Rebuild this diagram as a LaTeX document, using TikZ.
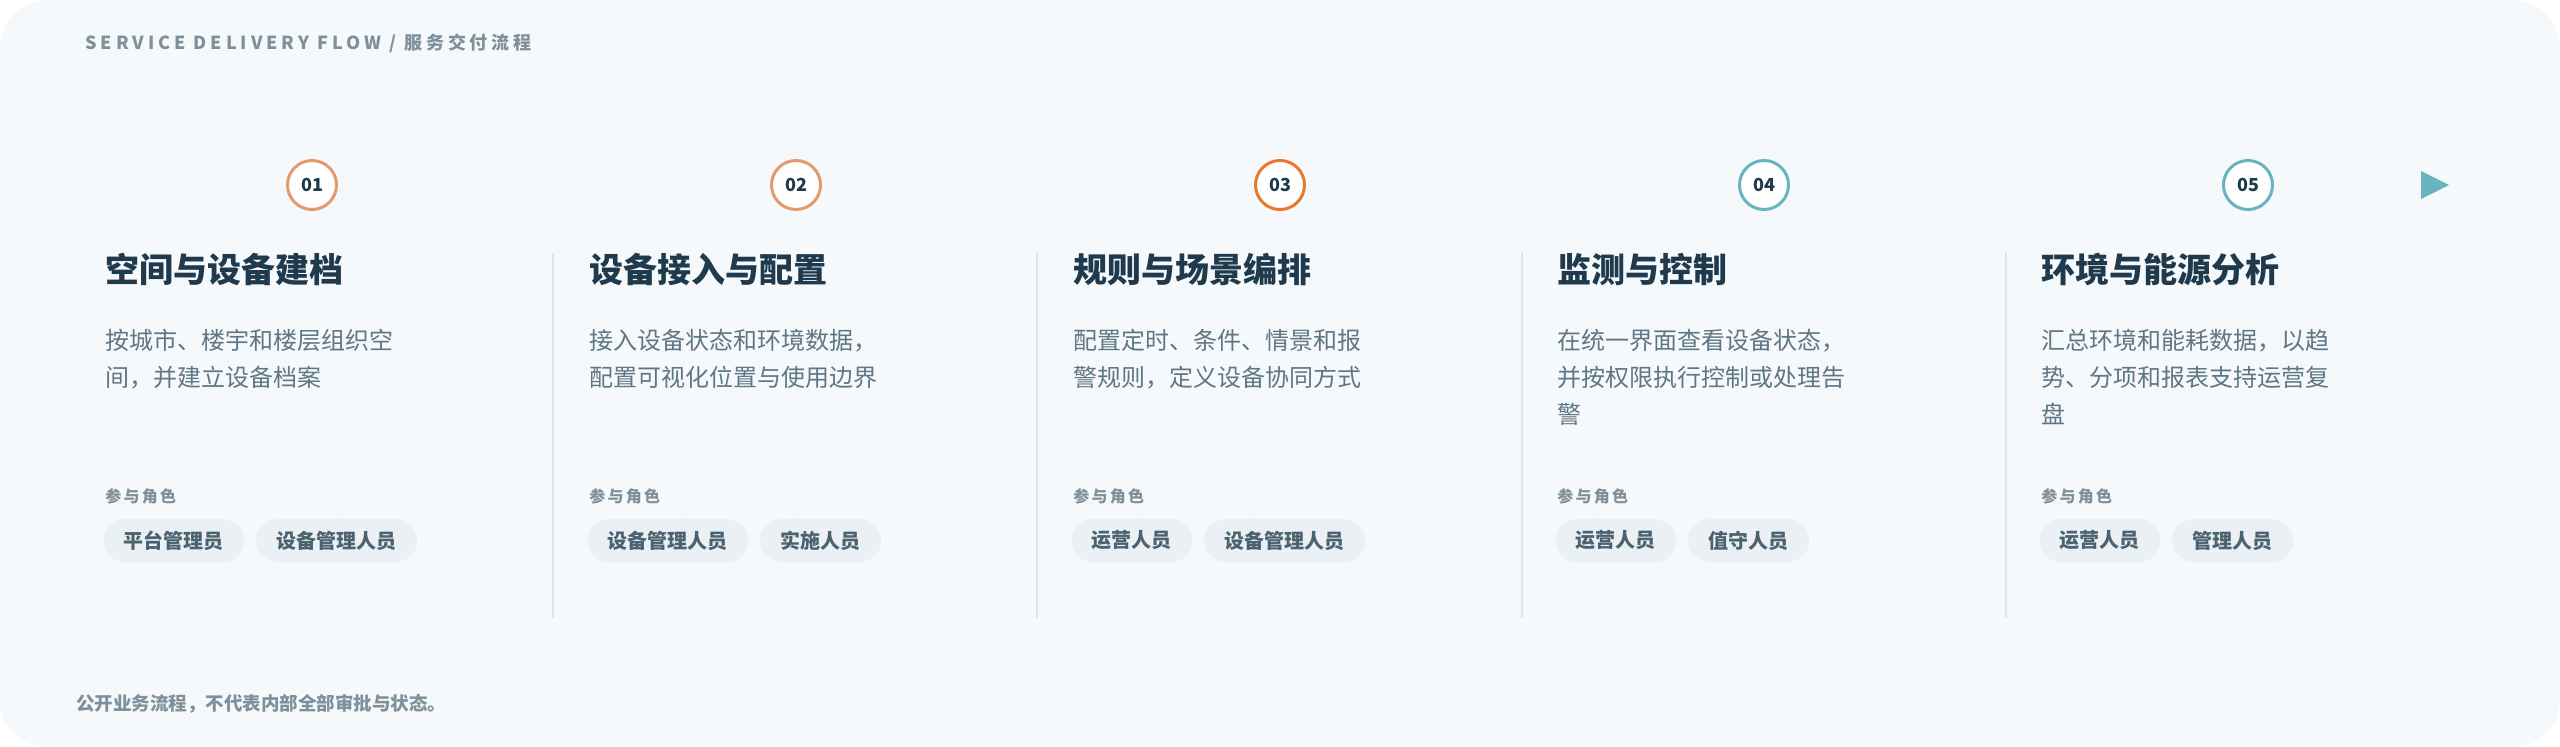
\documentclass[tikz,border=0pt]{standalone}
\usepackage{fontspec}
\usetikzlibrary{positioning}
\setmainfont{Noto Sans CJK SC}
\newfontfamily\spacedfont[LetterSpace=22]{Noto Sans CJK SC}
\newfontfamily\rolefont[LetterSpace=14]{Noto Sans CJK SC}

\definecolor{bgcol}{RGB}{245,249,252}
\definecolor{gridcol}{RGB}{240,245,249}
\definecolor{ink}{RGB}{30,58,76}
\definecolor{descgrey}{RGB}{95,118,132}
\definecolor{mutedgrey}{RGB}{127,144,155}
\definecolor{chipfill}{RGB}{234,240,243}
\definecolor{chiptext}{RGB}{75,98,112}
\definecolor{peach}{RGB}{227,154,110}
\definecolor{deeporange}{RGB}{232,121,47}
\definecolor{teal}{RGB}{104,181,193}
\definecolor{sepline}{RGB}{220,229,235}

\tikzset{every picture/.style={line width=0.75pt}}
\tikzset{
  stepcircle/.style={circle, minimum size=49pt, inner sep=0pt, line width=3pt, fill=white, text=ink, font=\fontsize{18}{18}\selectfont\bfseries},
  steptitle/.style={anchor=base west, inner sep=0pt, text=ink, font=\fontsize{34}{40}\selectfont\bfseries},
  stepdesc/.style={anchor=north west, inner sep=0pt, align=left, text=descgrey, font=\fontsize{24}{37}\selectfont},
  rolelabel/.style={anchor=base west, inner sep=0pt, text=mutedgrey, font=\rolefont\fontsize{16}{16}\selectfont\bfseries},
  rolechip/.style={anchor=west, rounded corners=21.5pt, minimum height=43pt, inner xsep=20.5pt, inner ysep=0pt, fill=chipfill, text=chiptext, font=\fontsize{20}{20}\selectfont\bfseries},
  sepstroke/.style={draw=sepline, line width=2pt}
}

\begin{document}
\begin{tikzpicture}[x=1pt,y=1pt,yscale=-1,xscale=1]
\useasboundingbox (0,0) rectangle (2560,747);

%Shape: Rectangle [background]
\fill [white] (0,0) rectangle (2560,747);
\fill [bgcol, rounded corners=48pt] (0,0) rectangle (2560,747);
\begin{scope}
\clip [rounded corners=48pt] (0,0) rectangle (2560,747);
\draw [gridcol, line width=1pt, step=114pt] (0,0) grid (2560,747);
\end{scope}

% Text Node
\draw (85,49.5) node [anchor=base west][inner sep=0pt][text=mutedgrey, font=\spacedfont\fontsize{18}{18}\selectfont\bfseries] (header) {SERVICE DELIVERY FLOW / 服务交付流程};

%Straight Lines [column separators]
\draw [sepstroke] (553,253) -- (553,618) ;
\draw [sepstroke] (1037,253) -- (1037,618) ;
\draw [sepstroke] (1522,253) -- (1522,618) ;
\draw [sepstroke] (2006,253) -- (2006,618) ;

%Shape: Circle
\node [stepcircle, draw=peach] (step1) at (312,185) {01};
%Shape: Circle
\node [stepcircle, draw=peach] (step2) at (796,185) {02};
%Shape: Circle
\node [stepcircle, draw=deeporange] (step3) at (1280,185) {03};
%Shape: Circle
\node [stepcircle, draw=teal] (step4) at (1764,185) {04};
%Shape: Circle
\node [stepcircle, draw=teal] (step5) at (2248,185) {05};
%Shape: Triangle
\fill [teal] (2421,171) -- (2449,185) -- (2421,199) -- cycle ;

% Text Node
\node [steptitle] (title1) at (105,282) {空间与设备建档};
% Text Node
\node [stepdesc] (desc1) at (105,329) {按城市、楼宇和楼层组织空\\间，并建立设备档案};
% Text Node
\node [rolelabel] (roles1) at (105,502) {参与角色};
\node [rolechip] (chip1a) at (103,540.5) {平台管理员};
\node [rolechip, right=11pt of chip1a] (chip1b) {设备管理人员};

% Text Node
\node [steptitle] (title2) at (589,282) {设备接入与配置};
% Text Node
\node [stepdesc] (desc2) at (589,329) {接入设备状态和环境数据，\\配置可视化位置与使用边界};
% Text Node
\node [rolelabel] (roles2) at (589,502) {参与角色};
\node [rolechip] (chip2a) at (587,540.5) {设备管理人员};
\node [rolechip, right=11pt of chip2a] (chip2b) {实施人员};

% Text Node
\node [steptitle] (title3) at (1073,282) {规则与场景编排};
% Text Node
\node [stepdesc] (desc3) at (1073,329) {配置定时、条件、情景和报\\警规则，定义设备协同方式};
% Text Node
\node [rolelabel] (roles3) at (1073,502) {参与角色};
\node [rolechip] (chip3a) at (1071,540.5) {运营人员};
\node [rolechip, right=11pt of chip3a] (chip3b) {设备管理人员};

% Text Node
\node [steptitle] (title4) at (1557,282) {监测与控制};
% Text Node
\node [stepdesc] (desc4) at (1557,329) {在统一界面查看设备状态，\\并按权限执行控制或处理告\\警};
% Text Node
\node [rolelabel] (roles4) at (1557,502) {参与角色};
\node [rolechip] (chip4a) at (1555,540.5) {运营人员};
\node [rolechip, right=11pt of chip4a] (chip4b) {值守人员};

% Text Node
\node [steptitle] (title5) at (2041,282) {环境与能源分析};
% Text Node
\node [stepdesc] (desc5) at (2041,329) {汇总环境和能耗数据，以趋\\势、分项和报表支持运营复\\盘};
% Text Node
\node [rolelabel] (roles5) at (2041,502) {参与角色};
\node [rolechip] (chip5a) at (2039,540.5) {运营人员};
\node [rolechip, right=11pt of chip5a] (chip5b) {管理人员};

% Text Node
\draw (76,710) node [anchor=base west][inner sep=0pt][text=mutedgrey, font=\fontsize{18.5}{18.5}\selectfont\bfseries] (footnote) {公开业务流程，不代表内部全部审批与状态。};

\end{tikzpicture}
\end{document}
